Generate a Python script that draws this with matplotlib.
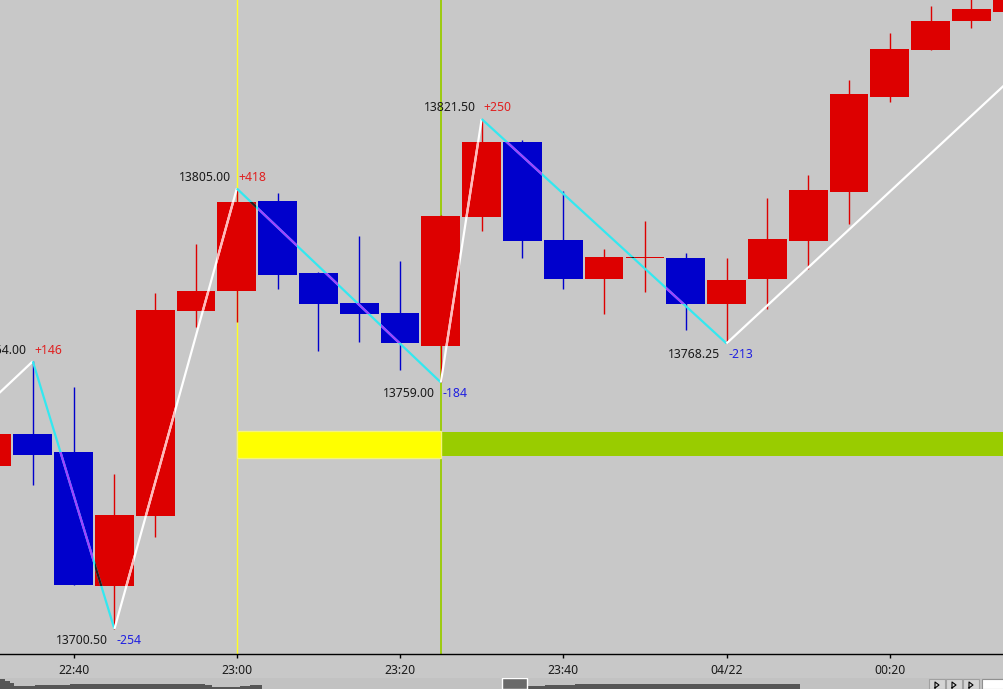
import matplotlib
matplotlib.use('Agg')
import matplotlib.pyplot as plt
from matplotlib.patches import Rectangle

# 5 minute bars, index 0 = 22:30
times = ['22:30', '22:35', '22:40', '22:45', '22:50', '22:55', '23:00', '23:05', '23:10',
         '23:15', '23:20', '23:25', '23:30', '23:35', '23:40', '23:45', '23:50', '23:55',
         '00:00', '00:05', '00:10', '00:15', '00:20', '00:25', '00:30', '00:35']
opens = [13739.25, 13746.75, 13742.5, 13710.75, 13727.25, 13776.0, 13780.75, 13802.0, 13785.0,
         13777.75, 13775.5, 13767.75, 13798.25, 13816.0, 13792.75, 13783.5, 13788.5, 13788.5,
         13777.5, 13783.5, 13792.5, 13804.25, 13826.75, 13837.75, 13844.75, 13847.0]
highs = [13748.0, 13764.0, 13758.0, 13737.25, 13780.25, 13791.75, 13805.0, 13804.0, 13785.25,
         13793.75, 13787.75, 13798.75, 13821.5, 13816.5, 13804.5, 13790.75, 13797.25, 13789.75,
         13788.5, 13802.75, 13808.25, 13830.75, 13842.0, 13848.25, 13850.5, 13853.0]
lows = [13738.5, 13734.75, 13711.0, 13700.5, 13722.25, 13772.25, 13773.25, 13781.25, 13766.5,
        13768.5, 13762.0, 13759.0, 13795.0, 13788.5, 13781.25, 13775.25, 13780.5, 13771.5,
        13768.25, 13776.5, 13786.0, 13796.5, 13825.5, 13837.75, 13843.0, 13846.5]
closes = [13746.75, 13741.75, 13711.0, 13727.5, 13776.25, 13780.75, 13801.75, 13784.5, 13777.5,
          13775.25, 13768.25, 13798.5, 13816.0, 13792.5, 13783.5, 13788.75, 13788.5, 13777.5,
          13783.25, 13793.0, 13804.75, 13827.5, 13838.0, 13844.75, 13847.5, 13852.0]

# zigzag pivots (bar index, price) and tick counts of each leg
piv_idx = [-3, 1, 3, 6, 11, 12, 18, 30]
piv_price = [13727.5, 13764.0, 13700.5, 13805.0, 13759.0, 13821.5, 13768.25, 13876.25]
piv_counts = [None, 146, -254, 418, -184, 250, -213, None]

# session markers
vline_idx = [6, 11]
vline_colors = ['#ffff20', '#99cc00']
vline_widths = [1.0, 1.3]
zone_yellow = [6, 11, 13741.0, 13747.5]
zone_green = [11, 26, 13741.5, 13747.25]

xtick_idx = [2, 6, 10, 14, 18, 22]
xtick_labels = ['22:40', '23:00', '23:20', '23:40', '04/22', '00:20']

# overview strip at the bottom
ov1_x = [0, 5, 10, 14, 35, 70, 120, 160, 205, 212, 240, 250, 262]
ov1_h = [10, 8, 6, 3, 4, 5, 5, 5, 4, 2.5, 3, 4, 3]
ov2_x = [527, 545, 575, 620, 680, 720, 760, 790, 800]
ov2_h = [3.5, 4, 5, 5, 5.5, 5, 5, 5.5, 5]

plt.rcParams['font.family'] = ['Noto Sans', 'DejaVu Sans']
BG = '#c8c8c8'
RED = '#dd0000'
BLUE = '#0000cc'

fig = plt.figure(figsize=(10.04, 6.89), dpi=100)
fig.patch.set_facecolor(BG)
ax = fig.add_axes([0, 35 / 689, 1, 654 / 689])
ax.set_facecolor(BG)

x = list(range(len(times)))
colors = [RED if c >= o else BLUE for o, c in zip(opens, closes)]

# markers behind candles
for xi, col, w in zip(vline_idx, vline_colors, vline_widths):
    ax.axvline(xi, color=col, lw=w, zorder=1)
ax.add_patch(Rectangle((zone_yellow[0], zone_yellow[2]), zone_yellow[1] - zone_yellow[0],
                       zone_yellow[3] - zone_yellow[2], facecolor='#ffff00',
                       edgecolor='#f4f47a', lw=1, zorder=1.5))
ax.add_patch(Rectangle((zone_green[0], zone_green[2]), zone_green[1] - zone_green[0],
                       zone_green[3] - zone_green[2], facecolor='#99cc00', lw=0, zorder=1.4))

ax.vlines(x, lows, highs, colors=colors, lw=1, zorder=2)
bottoms = [min(o, c) for o, c in zip(opens, closes)]
heights = [max(abs(c - o), 0.25) for o, c in zip(opens, closes)]
bars = ax.bar(x, heights, bottom=bottoms, width=0.95, color=colors, lw=0,
              antialiased=False, zorder=3)

# zigzag legs: white up, cyan down
for k in range(len(piv_idx) - 1):
    xs = [piv_idx[k], piv_idx[k + 1]]
    ys = [piv_price[k], piv_price[k + 1]]
    up = ys[1] > ys[0]
    ax.plot(xs, ys, color='white' if up else '#33e8f0', lw=1.6, zorder=4,
            solid_capstyle='butt')
    # blended look where the line crosses a candle body
    for rect, col in zip(bars.patches, colors):
        if up:
            over = '#ffb8b8' if col == RED else '#d0d0ff'
        else:
            over = '#301818' if col == RED else '#a040ff'
        l2, = ax.plot(xs, ys, color=over, lw=1.6, zorder=5, solid_capstyle='butt')
        l2.set_clip_path(rect)

# pivot labels
for i, p, n in zip(piv_idx, piv_price, piv_counts):
    if n is None:
        continue
    dy = 11 if n > 0 else -11
    ax.annotate(f'{p:.2f}', (i, p), xytext=(-6, dy), textcoords='offset pixels',
                ha='right', va='center', fontsize=8.8, color='#1a1a1a', zorder=6)
    ax.annotate(f'{n:+d}', (i, p), xytext=(2, dy), textcoords='offset pixels',
                ha='left', va='center', fontsize=8.8,
                color='#e02020' if n > 0 else '#2020e0', zorder=6)

ax.set_xlim(0.196, 24.80)
ax.set_ylim(13694.57, 13849.73)
ax.set_xticks(xtick_idx)
ax.set_xticklabels(xtick_labels, fontsize=8.8, color='#1a1a1a')
for lab in ax.get_xticklabels():
    if lab.get_text() == '04/22':
        lab.set_fontweight('bold')
ax.tick_params(axis='x', direction='out', length=3, width=1, pad=4, color='black')
ax.set_yticks([])
for s in ['left', 'right', 'top']:
    ax.spines[s].set_visible(False)
ax.spines['bottom'].set_color('black')
ax.spines['bottom'].set_linewidth(1)

# overview / scroll strip
strip = fig.add_axes([0, 0, 1, 11 / 689])
strip.set_xlim(0, 1004)
strip.set_ylim(0, 11)
strip.set_facecolor('#c2c2c2')
strip.axis('off')
strip.add_patch(Rectangle((0, 0), 1004, 11, facecolor='#c2c2c2', lw=0))
strip.fill_between(ov1_x, 0, ov1_h, color='#565656', lw=0, step='post')
strip.fill_between(ov2_x, 0, ov2_h, color='#565656', lw=0, step='post')
strip.add_patch(Rectangle((502, 0), 25, 11, facecolor='#6a6a6a', edgecolor='white', lw=1))
for bx in [929, 946, 963]:
    strip.add_patch(Rectangle((bx, 0), 16, 10.5, facecolor='#d4d4d4', edgecolor='#a0a0a0', lw=0.8))
    strip.plot([bx + 6, bx + 6, bx + 10, bx + 6], [1, 7, 4, 1], color='black', lw=0.8)
strip.add_patch(Rectangle((982, 0), 22, 10.5, facecolor='white', edgecolor='#909090', lw=0.8))

fig.savefig('out.png', dpi=100, facecolor=BG)
